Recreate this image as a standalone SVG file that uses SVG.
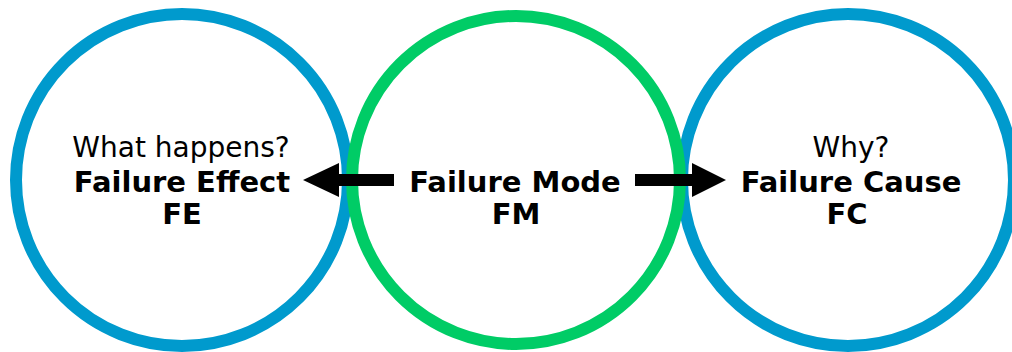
<svg xmlns="http://www.w3.org/2000/svg" width="1012" height="352" viewBox="0 0 1012 352">
<style>
.ring{fill:none;stroke-width:12}
.blue{stroke:#009acd}
.green{stroke:#00cc66}
.t{font-family:"DejaVu Sans","Verdana",sans-serif;font-size:28px;fill:#000;text-anchor:middle}
.b{font-weight:bold;font-size:29px}
.arrow{fill:#000}
</style>
<rect width="1012" height="352" fill="#fff"/>
<g id="node-fe">
<circle class="ring blue" cx="182" cy="180" r="166"/>
<text class="t" x="181" y="157">What happens?</text>
<text class="t b" x="182" y="192">Failure Effect</text>
<text class="t b" x="182" y="224">FE</text>
</g>
<g id="node-fc">
<circle class="ring blue" cx="848" cy="180" r="166"/>
<text class="t" x="851" y="157">Why?</text>
<text class="t b" x="851" y="192">Failure Cause</text>
<text class="t b" x="847" y="224">FC</text>
</g>
<g id="node-fm">
<circle class="ring green" cx="516" cy="180" r="164"/>
<text class="t b" x="515" y="192">Failure Mode</text>
<text class="t b" x="516" y="224">FM</text>
</g>
<g id="connectors">
<polygon class="arrow" points="394,174 339,174 339,163 303,180 339,197 339,186 394,186"/>
<polygon class="arrow" points="635,174 692,174 692,163 726,180 692,197 692,186 635,186"/>
</g>
</svg>
